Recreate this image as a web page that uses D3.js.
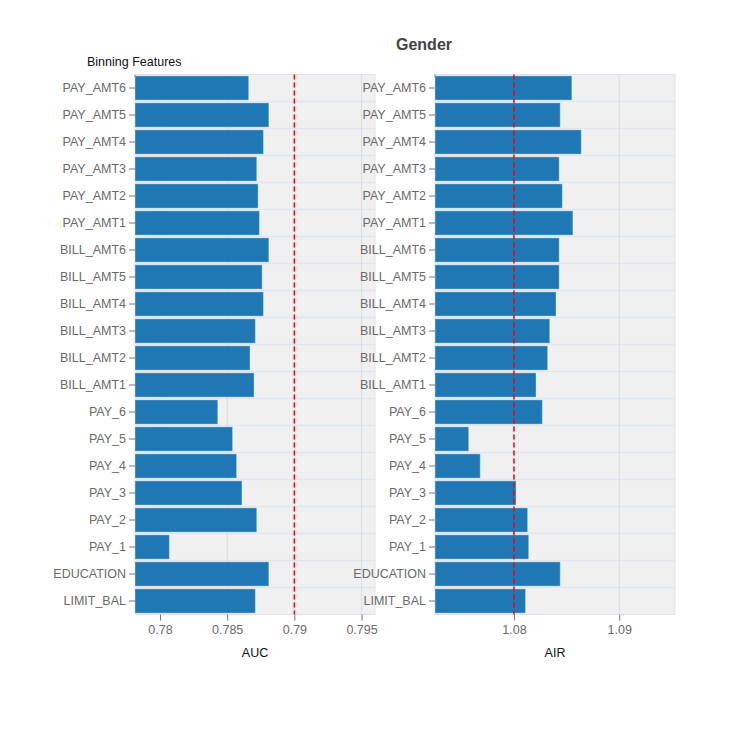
<!DOCTYPE html>
<html>
<head>
<meta charset="utf-8">
<script src="https://cdn.jsdelivr.net/npm/d3@7"></script>
<style>
  html, body { margin: 0; padding: 0; background: #fff; }
  svg { display: block; font-family: "Liberation Sans", Arial, sans-serif; }
</style>
</head>
<body>
<svg id="chart" width="750" height="750"></svg>
<script>
// ---- data ----
const features = ["PAY_AMT6","PAY_AMT5","PAY_AMT4","PAY_AMT3","PAY_AMT2","PAY_AMT1",
  "BILL_AMT6","BILL_AMT5","BILL_AMT4","BILL_AMT3","BILL_AMT2","BILL_AMT1",
  "PAY_6","PAY_5","PAY_4","PAY_3","PAY_2","PAY_1","EDUCATION","LIMIT_BAL"];
const aucValues = [0.7866,0.7881,0.7877,0.7872,0.7873,0.7874,
  0.7881,0.7876,0.7877,0.7871,0.7867,0.7870,
  0.7843,0.7854,0.7857,0.7861,0.7872,0.7807,0.7881,0.7871];
const airValues = [1.0855,1.0844,1.0864,1.0843,1.0846,1.0856,
  1.0843,1.0843,1.0840,1.0834,1.0832,1.0821,
  1.0827,1.0757,1.0768,1.0802,1.0813,1.0814,1.0844,1.0811];
const aucTicks = [0.78, 0.785, 0.79, 0.795];
const airTicks = [1.08, 1.09];
const aucThreshold = 0.79;
const airThreshold = 1.08;
const titleText = "Gender";
const subtitleText = "Binning Features";

// ---- layout ----
const svg = d3.select("#chart");
const plotTop = 74.5, plotBottom = 614.5;
const panels = [
  { x0: 135, x1: 375, domain: [0.77814, 0.79600], values: aucValues, ticks: aucTicks,
    threshold: aucThreshold, label: "AUC", fmt: d => String(+d.toFixed(3)) },
  { x0: 435, x1: 675, domain: [1.0725, 1.0953], values: airValues, ticks: airTicks,
    threshold: airThreshold, label: "AIR", fmt: d => d.toFixed(2) }
];

const y = d3.scaleBand().domain(features).range([plotTop, plotBottom]).paddingInner(0.1).paddingOuter(0.05);
const yGrid = d3.scaleBand().domain(features).range([plotTop, plotBottom]);

const tickColor = "#6a6a6a";

panels.forEach(p => {
  const x = d3.scaleLinear().domain(p.domain).range([p.x0, p.x1]);
  const g = svg.append("g");

  g.append("rect").attr("x", p.x0).attr("y", plotTop).attr("width", p.x1 - p.x0).attr("height", plotBottom - plotTop)
    .attr("fill", "#f0f0f0").attr("stroke", "#dfe3eb").attr("stroke-width", 1);

  g.selectAll("line.hg").data(features.slice(1)).join("line")
    .attr("x1", p.x0).attr("x2", p.x1)
    .attr("y1", d => yGrid(d)).attr("y2", d => yGrid(d))
    .attr("stroke", "#e2e6ee").attr("stroke-width", 1.5);

  g.selectAll("line.vg").data(p.ticks).join("line")
    .attr("x1", d => x(d)).attr("x2", d => x(d))
    .attr("y1", plotTop).attr("y2", plotBottom)
    .attr("stroke", "#d8dce5").attr("stroke-width", 1);

  g.selectAll("rect.bar").data(features).join("rect")
    .attr("class", "bar")
    .attr("x", x(p.domain[0]))
    .attr("y", d => y(d))
    .attr("width", (d, i) => Math.max(0, x(p.values[i]) - x(p.domain[0])))
    .attr("height", y.bandwidth())
    .attr("fill", "#1f77b4")
    .attr("stroke", "rgba(255,255,255,0.3)")
    .attr("stroke-width", 1.2);

  g.append("line")
    .attr("x1", x(p.threshold)).attr("x2", x(p.threshold))
    .attr("y1", plotTop).attr("y2", plotBottom)
    .attr("stroke", "red").attr("stroke-width", 1.5)
    .attr("stroke-dasharray", "5,3");

  const yAxis = d3.axisLeft(yGrid).tickSize(6).tickPadding(3);
  const ya = svg.append("g").attr("transform", `translate(${p.x0},0)`).call(yAxis);
  ya.select(".domain").attr("stroke", "#888").attr("d", `M0,${plotTop}V${plotTop + 3}`);
  ya.selectAll(".tick line").attr("stroke", "#777");
  ya.selectAll(".tick text").attr("fill", tickColor).attr("font-size", "12.5px")
    .attr("font-family", "Liberation Sans, Arial, sans-serif");

  const xAxis = d3.axisBottom(x).tickValues(p.ticks).tickFormat(p.fmt).tickSize(6).tickPadding(5);
  const xa = svg.append("g").attr("transform", `translate(0,${plotBottom})`).call(xAxis);
  xa.select(".domain").remove();
  xa.selectAll(".tick line").attr("stroke", "#777");
  xa.selectAll(".tick text").attr("fill", tickColor).attr("font-size", "12.5px")
    .attr("font-family", "Liberation Sans, Arial, sans-serif");

  svg.append("text").attr("x", (p.x0 + p.x1) / 2).attr("y", 657)
    .attr("text-anchor", "middle").attr("font-size", "12.5px").attr("fill", "#111")
    .text(p.label);
});

svg.append("text").attr("x", 424).attr("y", 50).attr("text-anchor", "middle")
  .attr("font-size", "16px").attr("font-weight", "bold").attr("fill", "#444").text(titleText);
svg.append("text").attr("x", 87).attr("y", 66)
  .attr("font-size", "12.5px").attr("fill", "#111").text(subtitleText);
</script>
</body>
</html>
